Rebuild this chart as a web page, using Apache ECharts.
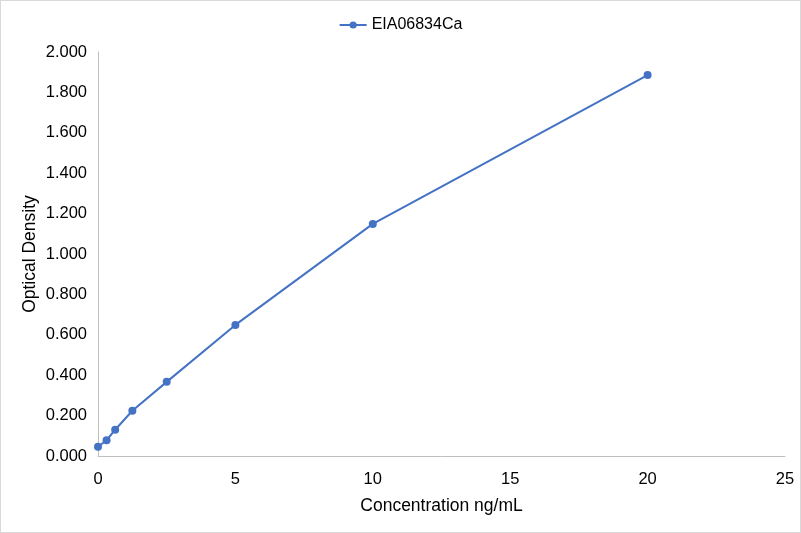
<!DOCTYPE html>
<html><head><meta charset="utf-8">
<script src="https://cdn.jsdelivr.net/npm/echarts@6/dist/echarts.min.js"></script>
<style>html,body{margin:0;padding:0;background:#fff}#c{width:801px;height:533px;box-sizing:border-box;border:1px solid #d9d9d9}</style>
</head><body><div id="c"></div>
<script>
const seriesName = 'EIA06834Ca';
const concentrations = [0, 0.3125, 0.625, 1.25, 2.5, 5, 10, 20];
const opticalDensity = [0.046, 0.078, 0.130, 0.224, 0.367, 0.649, 1.149, 1.886];
const chart = echarts.init(document.getElementById('c'));
const font = 'Liberation Sans, Arial, sans-serif';
chart.setOption({
  animation: false,
  legend: {top: 11, left: 'center', itemWidth: 27, itemHeight: 9, itemGap: 10, textStyle: {fontFamily: font, fontSize: 16, color: '#000'}, data: [seriesName]},
  grid: {left: 97, right: 15, top: 51, bottom: 76},
  xAxis: {type: 'value', min: 0, max: 25, interval: 5, name: 'Concentration ng/mL', nameLocation: 'middle', nameGap: 41,
    nameMoveOverlap: false,
    nameTextStyle: {fontFamily: font, fontSize: 17.5, color: '#000'},
    axisLine: {lineStyle: {color: '#bfbfbf'}}, axisTick: {show: false}, splitLine: {show: false},
    axisLabel: {fontFamily: font, fontSize: 16.5, color: '#000', margin: 15}},
  yAxis: {type: 'value', min: 0, max: 2, interval: 0.2, name: 'Optical Density', nameLocation: 'middle', nameGap: 59,
    nameMoveOverlap: false,
    nameTextStyle: {fontFamily: font, fontSize: 17.5, color: '#000'},
    axisLine: {show: true, lineStyle: {color: '#bfbfbf'}}, axisTick: {show: false}, splitLine: {show: false},
    axisLabel: {fontFamily: font, fontSize: 16.5, color: '#000', margin: 11, formatter: v => v.toFixed(3)}},
  series: [{name: seriesName, type: 'line', data: concentrations.map((c, i) => [c, opticalDensity[i]]),
    symbol: 'circle', symbolSize: 8, itemStyle: {color: '#4472C4'}, lineStyle: {color: '#4472C4', width: 2}}]
});
</script></body></html>
